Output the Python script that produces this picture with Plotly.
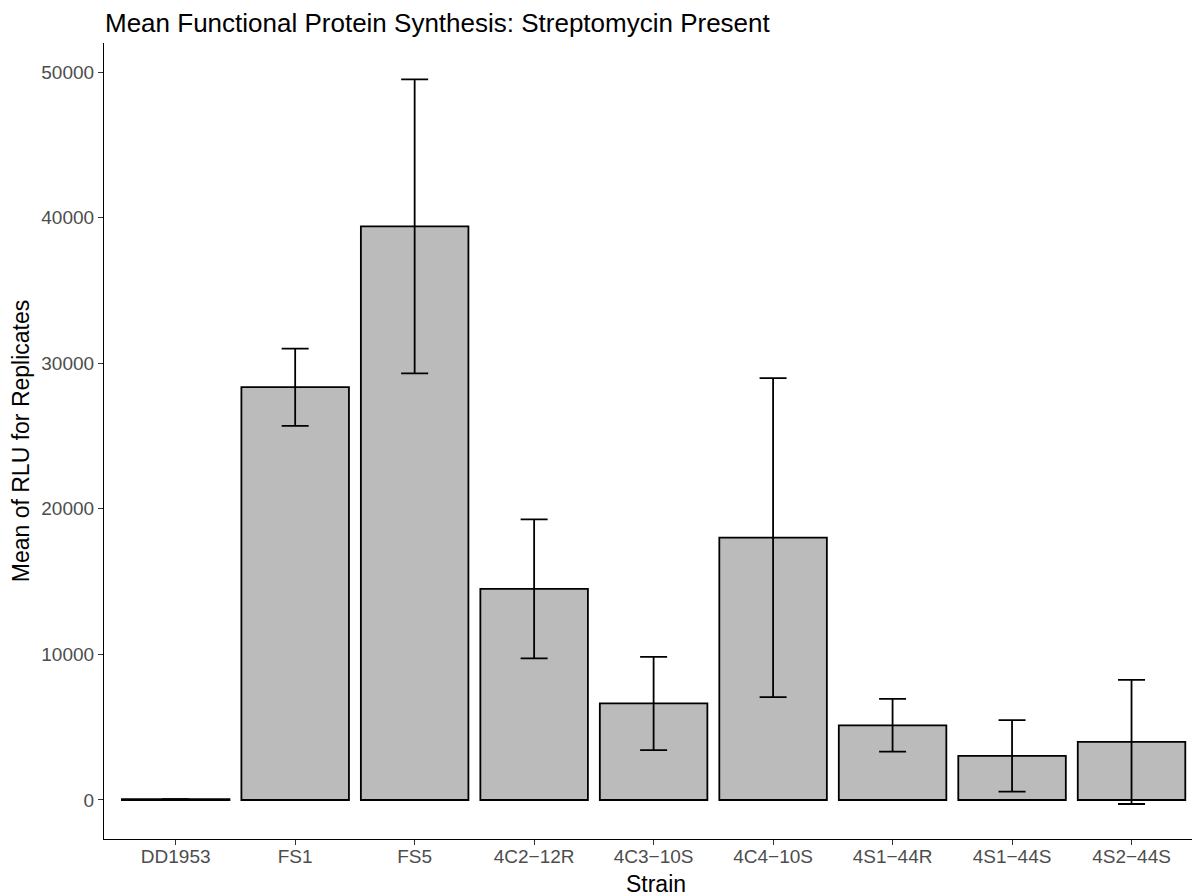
import plotly.graph_objects as go

strains = ["DD1953", "FS1", "FS5", "4C2−12R", "4C3−10S", "4C4−10S", "4S1−44R", "4S1−44S", "4S2−44S"]
mean_rlu = [60, 28350, 39400, 14500, 6630, 18020, 5130, 3030, 3985]
err_rlu = [0, 2650, 10100, 4780, 3200, 10950, 1810, 2460, 4260]
y_ticks = [0, 10000, 20000, 30000, 40000, 50000]

FONT = "Liberation Sans, Arial, sans-serif"

fig = go.Figure()
fig.add_trace(go.Bar(
    x=list(range(len(strains))),
    y=mean_rlu,
    width=0.9,
    marker=dict(color="#BBBBBB", line=dict(color="black", width=1.8)),
    error_y=dict(type="data", array=err_rlu, visible=True, color="black",
                 thickness=1.8, width=13.5),
    showlegend=False,
))

fig.update_layout(
    width=1200, height=896,
    margin=dict(l=96, r=0, t=35, b=65, autoexpand=False),
    paper_bgcolor="white", plot_bgcolor="white",
    font=dict(family=FONT, color="black"),
    title=dict(text="Mean Functional Protein Synthesis: Streptomycin Present",
               x=97 / 1200, xanchor="left", xref="container",
               y=1 - 15 / 896, yanchor="middle", yref="container",
               pad=dict(t=0, b=0, l=0, r=0),
               font=dict(size=26, color="black", family=FONT)),
    bargap=0.1,
)
fig.update_xaxes(
    automargin=False,
    range=[-0.6, 8.64],
    tickmode="array", tickvals=list(range(len(strains))), ticktext=strains,
    showline=True, linecolor="black", linewidth=1.2,
    ticks="outside", ticklen=5, tickcolor="#333333", tickwidth=1.2,
    tickfont=dict(size=19, color="#4D4D4D", family=FONT),
    ticklabelstandoff=-5,
    showgrid=False, zeroline=False,
    title=dict(text="Strain", font=dict(size=23, color="black", family=FONT), standoff=9),
)
fig.update_yaxes(
    automargin=False,
    range=[-2679, 51992],
    tickmode="array", tickvals=y_ticks, ticktext=[str(v) for v in y_ticks],
    showline=True, linecolor="black", linewidth=1.2,
    ticks="outside", ticklen=5, tickcolor="#333333", tickwidth=1.2,
    tickfont=dict(size=19, color="#4D4D4D", family=FONT),
    showgrid=False, zeroline=False,
    title=dict(text="Mean of RLU for Replicates", font=dict(size=23, color="black", family=FONT), standoff=7),
)

fig.write_html("out.html")
